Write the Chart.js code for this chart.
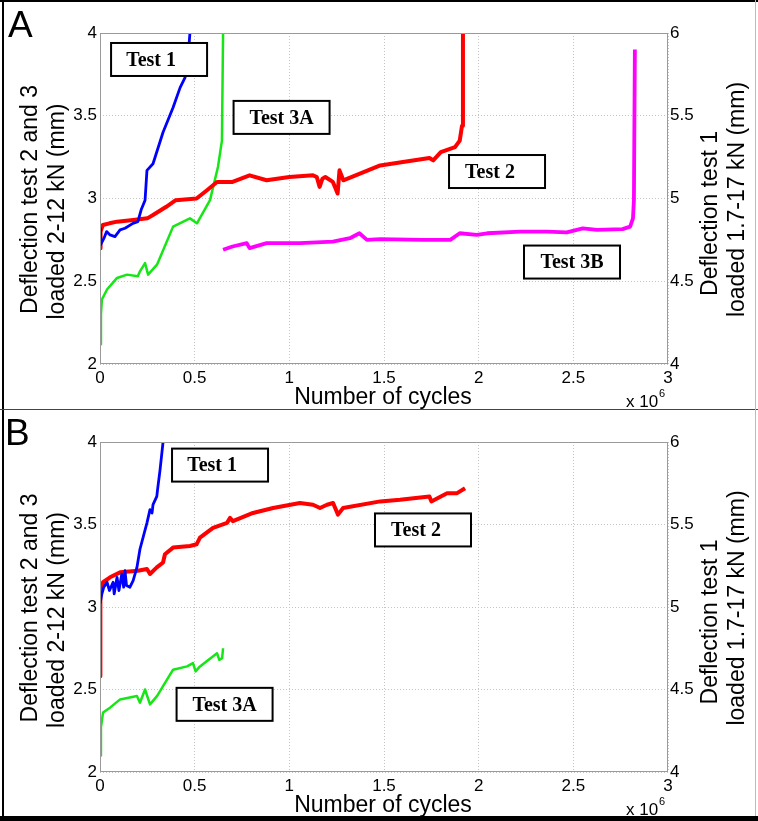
<!DOCTYPE html>
<html>
<head>
<meta charset="utf-8">
<script src="https://cdn.jsdelivr.net/npm/chart.js@4/dist/chart.umd.min.js"></script>
<style>
  body { margin: 0; background: #fff; }
  #fig { position: relative; width: 758px; height: 821px; overflow: hidden; font-family: "Liberation Sans", Arial, sans-serif; }
  canvas { position: absolute; left: 0; }
  .letter { position: absolute; font-size: 37px; line-height: 37px; color: #000; }
  .rule { position: absolute; }
</style>
</head>
<body>
<div id="fig">
  <canvas id="cnvA" width="758" height="409" style="top:0"></canvas>
  <canvas id="cnvB" width="758" height="412" style="top:409px"></canvas>
  <div class="letter" style="left:8px;top:6px">A</div>
  <div class="letter" style="left:5px;top:414px">B</div>
  <div class="rule" style="left:2px;top:0;width:2px;height:821px;background:#000"></div>
  <div class="rule" style="left:0;top:0;width:758px;height:2px;background:#000"></div>
  <div class="rule" style="left:0;top:409px;width:758px;height:1px;background:#444"></div>
  <div class="rule" style="left:755px;top:0;width:1px;height:821px;background:#bbb"></div>
  <div class="rule" style="left:0;top:816px;width:758px;height:5px;background:#000"></div>
</div>
<script>
// Panel A (cycles / deflection in mm)
const aTest1Cycles = [0, 3e3, 21e3, 35e3, 53e3, 79e3, 106e3, 132e3, 174e3, 200e3, 217e3, 238e3, 248e3, 280e3, 333e3, 386e3, 423e3, 449e3, 465e3, 475e3];
const aTest1Defl   = [4.82, 4.72, 4.76, 4.80, 4.78, 4.77, 4.81, 4.82, 4.85, 4.86, 4.93, 4.99, 5.17, 5.21, 5.40, 5.55, 5.67, 5.73, 5.85, 6.0];

const aTest2Cycles = [0, 3e3, 15e3, 50e3, 90e3, 175e3, 250e3, 280e3, 350e3, 400e3, 510e3, 565e3, 618e3, 700e3, 790e3, 880e3, 1000e3, 1125e3, 1145e3, 1160e3, 1175e3, 1190e3, 1230e3, 1255e3, 1265e3, 1285e3, 1480e3, 1600e3, 1740e3, 1760e3, 1800e3, 1875e3, 1900e3, 1912e3, 1917e3];
const aTest2Defl   = [2.70, 2.80, 2.84, 2.85, 2.86, 2.87, 2.88, 2.90, 2.95, 2.99, 3.00, 3.05, 3.10, 3.10, 3.14, 3.11, 3.13, 3.14, 3.13, 3.07, 3.12, 3.13, 3.10, 3.03, 3.17, 3.11, 3.20, 3.22, 3.245, 3.23, 3.28, 3.31, 3.35, 3.44, 4.0];

const aTest3ACycles = [0, 5e3, 10e3, 37e3, 90e3, 143e3, 200e3, 211e3, 238e3, 254e3, 301e3, 386e3, 475e3, 512e3, 581e3, 623e3, 644e3, 650e3];
const aTest3ADefl   = [2.12, 2.30, 2.39, 2.45, 2.52, 2.54, 2.53, 2.56, 2.61, 2.54, 2.60, 2.83, 2.88, 2.85, 2.99, 3.19, 3.35, 4.0];

const aTest3BCycles = [650e3, 700e3, 775e3, 790e3, 880e3, 1055e3, 1230e3, 1320e3, 1370e3, 1410e3, 1480e3, 1705e3, 1850e3, 1900e3, 1990e3, 2045e3, 2220e3, 2360e3, 2465e3, 2550e3, 2625e3, 2760e3, 2800e3, 2815e3, 2820e3, 2825e3];
const aTest3BDefl   = [2.69, 2.71, 2.73, 2.70, 2.73, 2.73, 2.74, 2.76, 2.79, 2.75, 2.755, 2.75, 2.75, 2.79, 2.78, 2.79, 2.80, 2.80, 2.795, 2.82, 2.81, 2.815, 2.83, 2.88, 2.99, 3.90];

// Panel B
const bTest1Cycles = [0, 10e3, 20e3, 37e3, 50e3, 69e3, 75e3, 90e3, 100e3, 115e3, 125e3, 132e3, 140e3, 158e3, 175e3, 195e3, 211e3, 248e3, 264e3, 275e3, 280e3, 300e3, 305e3, 317e3, 333e3];
const bTest1Defl   = [5.02, 5.08, 5.12, 5.15, 5.10, 5.15, 5.08, 5.18, 5.10, 5.20, 5.12, 5.22, 5.13, 5.12, 5.16, 5.24, 5.35, 5.51, 5.59, 5.57, 5.62, 5.67, 5.72, 5.83, 6.0];

const bTest2Cycles = [0, 2e3, 16e3, 53e3, 106e3, 200e3, 248e3, 264e3, 300e3, 333e3, 343e3, 386e3, 475e3, 510e3, 528e3, 597e3, 671e3, 687e3, 702e3, 808e3, 914e3, 1056e3, 1125e3, 1162e3, 1199e3, 1231e3, 1257e3, 1284e3, 1480e3, 1585e3, 1740e3, 1750e3, 1833e3, 1886e3, 1928e3];
const bTest2Defl   = [2.58, 3.09, 3.15, 3.18, 3.21, 3.22, 3.23, 3.20, 3.24, 3.27, 3.32, 3.36, 3.37, 3.38, 3.42, 3.48, 3.51, 3.54, 3.52, 3.57, 3.60, 3.63, 3.62, 3.60, 3.62, 3.63, 3.56, 3.60, 3.64, 3.65, 3.67, 3.64, 3.69, 3.69, 3.72];

const bTest3ACycles = [0, 5e3, 16e3, 53e3, 106e3, 195e3, 211e3, 238e3, 264e3, 301e3, 386e3, 460e3, 491e3, 505e3, 528e3, 618e3, 630e3, 645e3, 650e3];
const bTest3ADefl   = [2.10, 2.27, 2.36, 2.39, 2.44, 2.46, 2.42, 2.50, 2.41, 2.46, 2.62, 2.64, 2.66, 2.61, 2.64, 2.72, 2.68, 2.69, 2.75];

const xTicksStep = 5e5;
const leftTitle = ['Deflection test 2 and 3', 'loaded 2-12 kN (mm)'];
const rightTitle = ['Deflection test 1', 'loaded 1.7-17 kN (mm)'];
const xTitle = 'Number of cycles';

const SANS = '"Liberation Sans", Arial, sans-serif';
const SERIF = '"Liberation Serif", "Times New Roman", serif';

function pts(xs, ys) {
  return xs.map((x, i) => ({x: x, y: ys[i]}));
}

function line(xs, ys, color, width, axis) {
  return {
    data: pts(xs, ys),
    borderColor: color,
    borderWidth: width,
    pointRadius: 0,
    tension: 0,
    fill: false,
    borderJoinStyle: 'round',
    yAxisID: axis
  };
}

// axis titles, plot frame and the boxed test labels
const panelText = {
  id: 'panelText',
  afterDraw(chart, args, opts) {
    const {ctx, chartArea: a, scales} = chart;
    ctx.save();
    ctx.strokeStyle = '#9a9a9a';
    ctx.lineWidth = 1;
    ctx.strokeRect(a.left + 0.5, a.top + 0.5, a.width - 1, a.height - 1);

    const midY = (a.top + a.bottom) / 2;
    ctx.fillStyle = '#000';
    ctx.font = '23px ' + SANS;
    ctx.textAlign = 'center';
    ctx.textBaseline = 'middle';
    const vtext = (txt, x, y) => {
      ctx.save();
      ctx.translate(x, y);
      ctx.rotate(-Math.PI / 2);
      ctx.fillText(txt, 0, 0);
      ctx.restore();
    };
    vtext(leftTitle[0], 31, midY + 1);
    vtext(leftTitle[1], 58, midY + 13);
    vtext(rightTitle[0], 711, midY + 15);
    vtext(rightTitle[1], 738, midY + 1);

    ctx.textBaseline = 'alphabetic';
    ctx.fillText(xTitle, 383, a.bottom + 40);
    ctx.textAlign = 'left';
    ctx.font = '17px ' + SANS;
    ctx.fillText('x 10', 626, a.bottom + 43);
    ctx.font = '11px ' + SANS;
    ctx.fillText('6', 659, a.bottom + 33);

    opts.labels.forEach(l => {
      const cx = scales.x.getPixelForValue(l.x);
      const cy = scales.y.getPixelForValue(l.y);
      const w = 96, h = 33;
      ctx.fillStyle = '#fff';
      ctx.fillRect(cx - w / 2, cy - h / 2, w, h);
      ctx.strokeStyle = '#000';
      ctx.lineWidth = 2;
      ctx.strokeRect(cx - w / 2, cy - h / 2, w, h);
      ctx.fillStyle = '#000';
      ctx.font = 'bold 20px ' + SERIF;
      ctx.textAlign = 'center';
      ctx.textBaseline = 'middle';
      ctx.fillText(l.text, cx + (l.dx || 0), cy + 1);
    });
    ctx.restore();
  }
};

function makePanel(id, datasets, labels, topPad, xAxisH) {
  const tickFont = {family: SANS, size: 17};
  new Chart(document.getElementById(id), {
    type: 'line',
    data: {datasets: datasets},
    options: {
      responsive: false,
      animation: false,
      devicePixelRatio: 1,
      layout: {padding: {top: topPad, left: 0, right: 0, bottom: 0}},
      plugins: {
        legend: {display: false},
        tooltip: {enabled: false},
        panelText: {labels: labels}
      },
      scales: {
        x: {
          type: 'linear', min: 0, max: 3e6,
          afterFit: s => { s.height = xAxisH; },
          ticks: {stepSize: xTicksStep, font: tickFont, color: '#000', padding: 4, maxRotation: 0, autoSkip: false,
                  callback: v => String(v / 1e6)},
          grid: {color: '#c4c4c4', drawTicks: false},
          border: {display: false, dash: [1, 2]}
        },
        y: {
          position: 'left', min: 2, max: 4,
          afterFit: s => { s.width = 100; },
          ticks: {stepSize: 0.5, font: tickFont, color: '#000', padding: 3, callback: v => String(v)},
          grid: {color: '#c4c4c4', drawTicks: false},
          border: {display: false, dash: [1, 2]}
        },
        y2: {
          position: 'right', min: 4, max: 6,
          afterFit: s => { s.width = 90; },
          ticks: {stepSize: 0.5, font: tickFont, color: '#000', padding: 2, callback: v => String(v)},
          grid: {display: false, drawTicks: false},
          border: {display: false}
        }
      }
    },
    plugins: [panelText]
  });
}

makePanel('cnvA', [
  line(aTest1Cycles, aTest1Defl, '#0000ff', 2.8, 'y2'),
  line(aTest2Cycles, aTest2Defl, '#ff0000', 4, 'y'),
  line(aTest3ACycles, aTest3ADefl, '#16e616', 2.5, 'y'),
  line(aTest3BCycles, aTest3BDefl, '#ff00ff', 3.8, 'y')
], [
  {text: 'Test 1', x: 312e3, y: 3.84, dx: -8},
  {text: 'Test 3A', x: 959e3, y: 3.49},
  {text: 'Test 2', x: 2097e3, y: 3.163, dx: -7},
  {text: 'Test 3B', x: 2493e3, y: 2.616}
], 33, 45);

makePanel('cnvB', [
  line(bTest1Cycles, bTest1Defl, '#0000ff', 2.8, 'y2'),
  line(bTest2Cycles, bTest2Defl, '#ff0000', 4, 'y'),
  line(bTest3ACycles, bTest3ADefl, '#16e616', 2.5, 'y')
], [
  {text: 'Test 1', x: 634e3, y: 3.86, dx: -8},
  {text: 'Test 2', x: 1706e3, y: 3.467, dx: -7},
  {text: 'Test 3A', x: 658e3, y: 2.41}
], 33, 49);
</script>
</body>
</html>
